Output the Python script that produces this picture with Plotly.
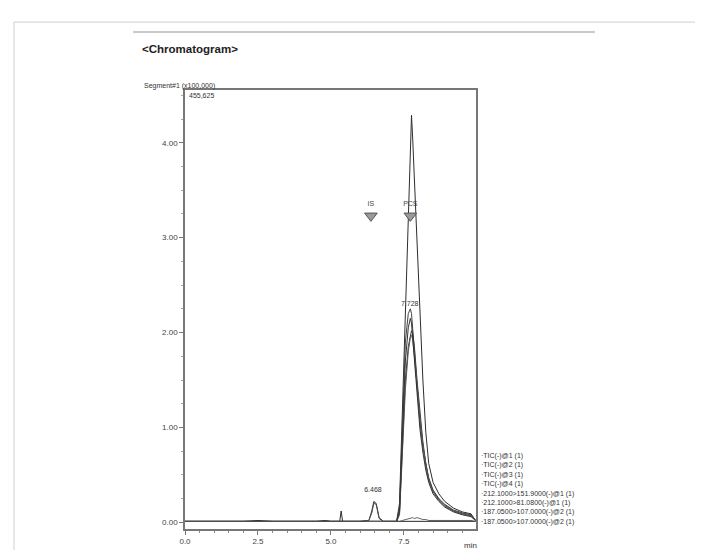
import plotly.graph_objects as go

# ---- data (retention time in min, intensity in x100,000) ----
t = [0.0, 0.5, 1.0, 1.5, 2.0, 2.5, 3.0, 3.5, 4.0, 4.5, 4.8, 5.0, 5.3, 5.35, 5.4,
     5.6, 6.0, 6.3, 6.4, 6.47, 6.55, 6.65, 6.8, 7.0, 7.25, 7.35, 7.45, 7.55, 7.65,
     7.72, 7.76, 7.8, 7.86, 7.95, 8.05, 8.15, 8.25, 8.35, 8.5, 8.7, 8.9, 9.2, 9.5,
     9.8, 9.95]

tic1 = [0.01, 0.01, 0.01, 0.01, 0.01, 0.02, 0.01, 0.01, 0.01, 0.01, 0.02, 0.01, 0.01, 0.12, 0.01,
        0.01, 0.01, 0.01, 0.01, 0.01, 0.01, 0.01, 0.01, 0.01, 0.01, 0.2, 1.2, 2.2, 3.2,
        4.0, 4.29, 4.05, 3.6, 2.9, 2.25, 1.5, 0.95, 0.62, 0.42, 0.3, 0.22, 0.15, 0.11,
        0.09, 0.02]
tic2 = [0.01, 0.01, 0.01, 0.01, 0.01, 0.01, 0.01, 0.01, 0.01, 0.01, 0.01, 0.01, 0.01, 0.01, 0.01,
        0.01, 0.01, 0.01, 0.01, 0.01, 0.01, 0.01, 0.01, 0.01, 0.01, 0.15, 1.0, 1.9, 2.2,
        2.25, 2.2, 2.05, 1.8, 1.4, 1.05, 0.8, 0.6, 0.45, 0.33, 0.24, 0.18, 0.12, 0.09,
        0.07, 0.02]
tic3 = [0.01, 0.01, 0.01, 0.01, 0.01, 0.01, 0.01, 0.01, 0.01, 0.01, 0.01, 0.01, 0.01, 0.01, 0.01,
        0.01, 0.01, 0.01, 0.01, 0.01, 0.01, 0.01, 0.01, 0.01, 0.01, 0.1, 0.8, 1.5, 1.85,
        1.98, 2.02, 2.0, 1.85, 1.5, 1.15, 0.85, 0.62, 0.47, 0.34, 0.25, 0.19, 0.13, 0.1,
        0.08, 0.03]
tic4 = [0.01, 0.01, 0.01, 0.01, 0.01, 0.01, 0.01, 0.01, 0.01, 0.01, 0.01, 0.01, 0.01, 0.01, 0.01,
        0.01, 0.01, 0.01, 0.01, 0.01, 0.01, 0.01, 0.01, 0.01, 0.01, 0.08, 0.7, 1.4, 1.8,
        1.95, 1.97, 1.93, 1.75, 1.42, 1.1, 0.82, 0.6, 0.45, 0.32, 0.23, 0.17, 0.12, 0.09,
        0.07, 0.03]
mrm1 = [0.01, 0.01, 0.01, 0.01, 0.01, 0.01, 0.01, 0.01, 0.01, 0.01, 0.01, 0.01, 0.01, 0.01, 0.01,
        0.01, 0.01, 0.01, 0.01, 0.01, 0.01, 0.01, 0.01, 0.01, 0.01, 0.12, 0.9, 1.7, 2.05,
        2.15, 2.1, 1.95, 1.7, 1.3, 0.98, 0.74, 0.55, 0.42, 0.3, 0.22, 0.16, 0.11, 0.08,
        0.06, 0.02]
mrm2 = [0.01, 0.01, 0.01, 0.01, 0.01, 0.01, 0.01, 0.01, 0.01, 0.01, 0.01, 0.01, 0.01, 0.01, 0.01,
        0.01, 0.01, 0.01, 0.01, 0.01, 0.01, 0.01, 0.01, 0.01, 0.01, 0.01, 0.02, 0.03, 0.04,
        0.05, 0.05, 0.05, 0.04, 0.05, 0.04, 0.03, 0.03, 0.02, 0.02, 0.02, 0.02, 0.02, 0.02,
        0.02, 0.01]
mrm3 = [0.01, 0.01, 0.01, 0.01, 0.01, 0.01, 0.01, 0.01, 0.01, 0.01, 0.01, 0.01, 0.01, 0.01, 0.01,
        0.01, 0.01, 0.02, 0.12, 0.22, 0.2, 0.05, 0.01, 0.01, 0.01, 0.01, 0.01, 0.01, 0.01,
        0.01, 0.01, 0.01, 0.01, 0.01, 0.01, 0.01, 0.01, 0.01, 0.01, 0.01, 0.01, 0.01, 0.01,
        0.01, 0.01]
mrm4 = [0.01, 0.01, 0.01, 0.01, 0.01, 0.01, 0.01, 0.01, 0.01, 0.01, 0.01, 0.01, 0.01, 0.01, 0.01,
        0.01, 0.01, 0.02, 0.1, 0.2, 0.19, 0.04, 0.01, 0.01, 0.01, 0.01, 0.01, 0.01, 0.01,
        0.01, 0.01, 0.01, 0.01, 0.01, 0.01, 0.01, 0.01, 0.01, 0.01, 0.01, 0.01, 0.01, 0.01,
        0.01, 0.01]

series = [tic1, tic2, tic3, tic4, mrm1, mrm2, mrm3, mrm4]
series_names = ["TIC(-)@1 (1)", "TIC(-)@2 (1)", "TIC(-)@3 (1)", "TIC(-)@4 (1)",
                "212.1000>151.9000(-)@1 (1)", "212.1000>81.0800(-)@1 (1)",
                "187.0500>107.0000(-)@2 (1)", "187.0500>107.0000(-)@2 (1)"]

marker_names = ["IS", "PCS"]
marker_t = [6.37, 7.72]
marker_y = [3.23, 3.23]

peak_labels = ["6.468", "7.728"]
peak_t = [6.44, 7.7]
peak_y = [0.3, 2.26]

x_ticks = [0.0, 2.5, 5.0, 7.5]
y_ticks = [0.0, 1.0, 2.0, 3.0, 4.0]
y_max_label = "455,625"

# ---- figure ----
W, H = 703, 550
L, R, T, B = 177, 468, 82, 528
pw, ph = R - L, B - T


def px(x):
    return (x - L) / pw


def py(y):
    return (B - y) / ph


fig = go.Figure()
line_colors = ["#2e2e2e", "#444444", "#3a3a3a", "#555555", "#333333", "#666666", "#2a2a2a", "#505050"]
for s, name, c in zip(series, series_names, line_colors):
    fig.add_trace(go.Scatter(x=t, y=s, mode="lines", name=name,
                             line=dict(color=c, width=1), showlegend=False))

fig.add_trace(go.Scatter(x=marker_t, y=marker_y, mode="markers+text", text=marker_names,
                         textposition="top center",
                         textfont=dict(size=7, color="#444", family="Liberation Sans"),
                         marker=dict(symbol="triangle-down", size=11, color="#9a9a9a",
                                     line=dict(color="#555", width=1)),
                         showlegend=False))

fig.add_trace(go.Scatter(x=peak_t, y=peak_y, mode="text", text=peak_labels,
                         textposition="top center",
                         textfont=dict(size=7, color="#333", family="Liberation Sans"),
                         showlegend=False))

annotations = [
    dict(text="<b>&lt;Chromatogram&gt;</b>", x=px(132), y=py(40), xref="paper", yref="paper",
         xanchor="left", yanchor="middle", showarrow=False,
         font=dict(size=11.5, color="#222", family="Liberation Sans")),
    dict(text="Segment#1 (x100,000)", x=px(209), y=py(78), xref="paper", yref="paper",
         xanchor="right", yanchor="middle", showarrow=False,
         font=dict(size=7, color="#333", family="Liberation Sans")),
    dict(text=y_max_label, x=px(179), y=py(88), xref="paper", yref="paper",
         xanchor="left", yanchor="middle", showarrow=False,
         font=dict(size=7, color="#333", family="Liberation Sans")),
    dict(text="min", x=px(462), y=py(538), xref="paper", yref="paper",
         xanchor="center", yanchor="top", showarrow=False,
         font=dict(size=8, color="#333", family="Liberation Sans")),
]
row_y = [454, 463, 473, 482, 492, 502, 511, 521]
for name, yy in zip(series_names, row_y):
    annotations.append(dict(text="·" + name, x=px(471), y=py(yy), xref="paper", yref="paper",
                            xanchor="left", yanchor="middle", showarrow=False,
                            font=dict(size=7, color="#333", family="Liberation Sans")))

shapes = [
    dict(type="line", xref="paper", yref="paper", x0=px(6), x1=px(703), y0=py(13), y1=py(13),
         line=dict(color="#d0d0d0", width=1)),
    dict(type="line", xref="paper", yref="paper", x0=px(6), x1=px(6), y0=py(13), y1=py(550),
         line=dict(color="#d0d0d0", width=1)),
    dict(type="line", xref="paper", yref="paper", x0=px(125), x1=px(587), y0=py(23), y1=py(23),
         line=dict(color="#b8b8b8", width=1.5)),
]

fig.update_layout(
    width=W, height=H,
    margin=dict(l=L, r=W - R, t=T, b=H - B),
    paper_bgcolor="white", plot_bgcolor="white",
    annotations=annotations, shapes=shapes,
    font=dict(family="Liberation Sans", size=8, color="#333"),
    xaxis=dict(range=[0, 9.97], tickvals=x_ticks, ticktext=[f"{v:.1f}" for v in x_ticks],
               showgrid=False, zeroline=False, showline=True, linecolor="#777", linewidth=1.5,
               mirror=True, ticks="outside", ticklen=4, tickcolor="#777",
               minor=dict(dtick=0.5, ticks="outside", ticklen=2, tickcolor="#888"),
               tickfont=dict(size=8, color="#444")),
    yaxis=dict(range=[-0.07, 4.556], tickvals=y_ticks, ticktext=[f"{v:.2f}" for v in y_ticks],
               showgrid=False, zeroline=False, showline=True, linecolor="#777", linewidth=1.5,
               mirror=True, ticks="outside", ticklen=4, tickcolor="#777",
               minor=dict(dtick=0.25, ticks="outside", ticklen=2, tickcolor="#aaa"),
               tickfont=dict(size=8, color="#444")),
)

fig.write_html("out.html")
